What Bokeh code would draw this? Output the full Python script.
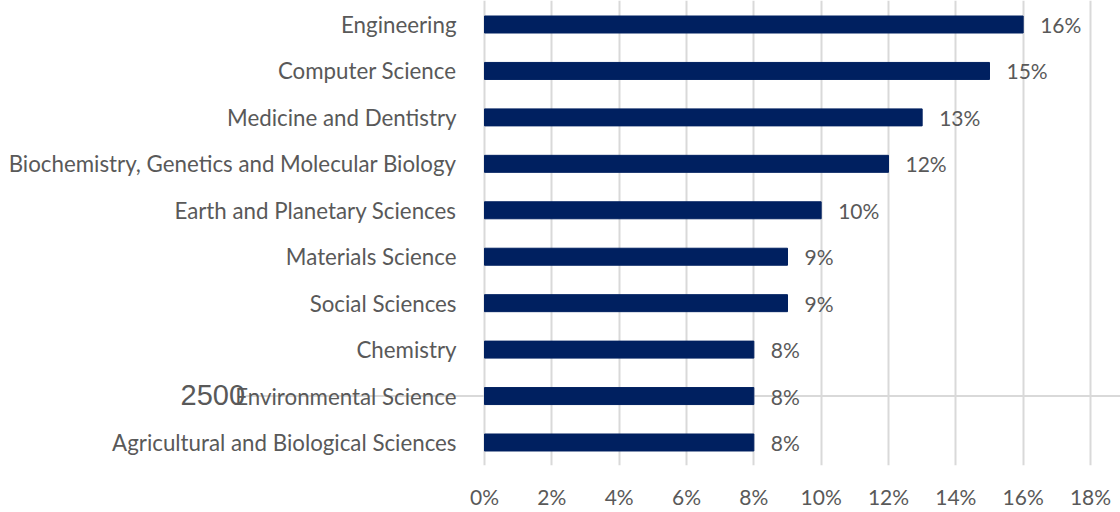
from bokeh.plotting import figure
from bokeh.models import Range1d, FixedTicker, NumeralTickFormatter, ColumnDataSource, Label
from bokeh.core.properties import value
from bokeh.embed import file_html
from bokeh.resources import INLINE

# ---- data ----
categories = [
    "Engineering",
    "Computer Science",
    "Medicine and Dentistry",
    "Biochemistry, Genetics and Molecular Biology",
    "Earth and Planetary Sciences",
    "Materials Science",
    "Social Sciences",
    "Chemistry",
    "Environmental Science",
    "Agricultural and Biological Sciences",
]
shares = [0.16, 0.15, 0.13, 0.12, 0.10, 0.09, 0.09, 0.08, 0.08, 0.08]
tick_values = [0.0, 0.02, 0.04, 0.06, 0.08, 0.10, 0.12, 0.14, 0.16, 0.18]
stray_text = "2500"

n = len(categories)
rows = [n - 1 - i for i in range(n)]
labels = [f"{round(s * 100)}%" for s in shares]
src = ColumnDataSource(dict(cat=categories, share=shares, row=rows, label=labels))

# ---- geometry ----
W, H = 1120, 512
PX = 0.18 / 606.0          # data units per screen pixel along x
ROW = 46.44                # pixels per category row
x_start = -484 * PX
x_end = (W - 484) * PX
y_start = -23.0 / ROW
y_end = (n - 1) + 24.0 / ROW

TXT = "#595959"
FONT = "Lato"

p = figure(width=W, height=H, output_backend="svg", toolbar_location=None,
           x_range=Range1d(x_start, x_end), y_range=Range1d(y_start, y_end),
           y_axis_location=None, min_border_left=0, min_border_right=0,
           min_border_top=0, min_border_bottom=H - 465)
p.outline_line_color = None
p.background_fill_color = "white"
p.border_fill_color = "white"
p.ygrid.visible = False
p.xgrid.ticker = FixedTicker(ticks=tick_values)
p.xgrid.grid_line_color = "#d9d9d9"
p.xgrid.grid_line_width = 2

ax = p.xaxis[0]
ax.ticker = FixedTicker(ticks=tick_values)
ax.formatter = NumeralTickFormatter(format="0%")
ax.axis_line_color = None
ax.major_tick_line_color = None
ax.minor_tick_line_color = None
ax.major_tick_out = 0
ax.minor_tick_out = 0
ax.major_label_standoff = 18
ax.major_label_text_line_height = 0.8
ax.major_label_text_font = FONT
ax.major_label_text_font_size = "21px"
ax.major_label_text_color = TXT

env_row = rows[categories.index("Environmental Science")]

# stray horizontal line seen in the reference
p.segment(x0=-(484 - 245) * PX, y0=env_row, x1=x_end, y1=env_row,
          line_color="#d9d9d9", line_width=2)

p.hbar(y="row", left=0, right="share", height=0.366, fill_color="#002060",
       line_color="#002060", source=src)

p.text(x=0, y="row", text="cat", x_offset=-28, text_align="right",
       text_baseline="middle", text_font=value(FONT), text_font_size="22.3px",
       text_color=TXT, source=src)

p.text(x="share", y="row", text="label", x_offset=17, text_align="left",
       text_baseline="middle", text_font=value(FONT), text_font_size="21px",
       text_color=TXT, source=src)

p.add_layout(Label(x=0, y=env_row, x_offset=-304, y_offset=1, text=stray_text,
                   text_font="Liberation Sans", text_font_size="29px",
                   text_baseline="middle", text_align="left", text_color=TXT))

open("out.html", "w").write(file_html(p, INLINE))
